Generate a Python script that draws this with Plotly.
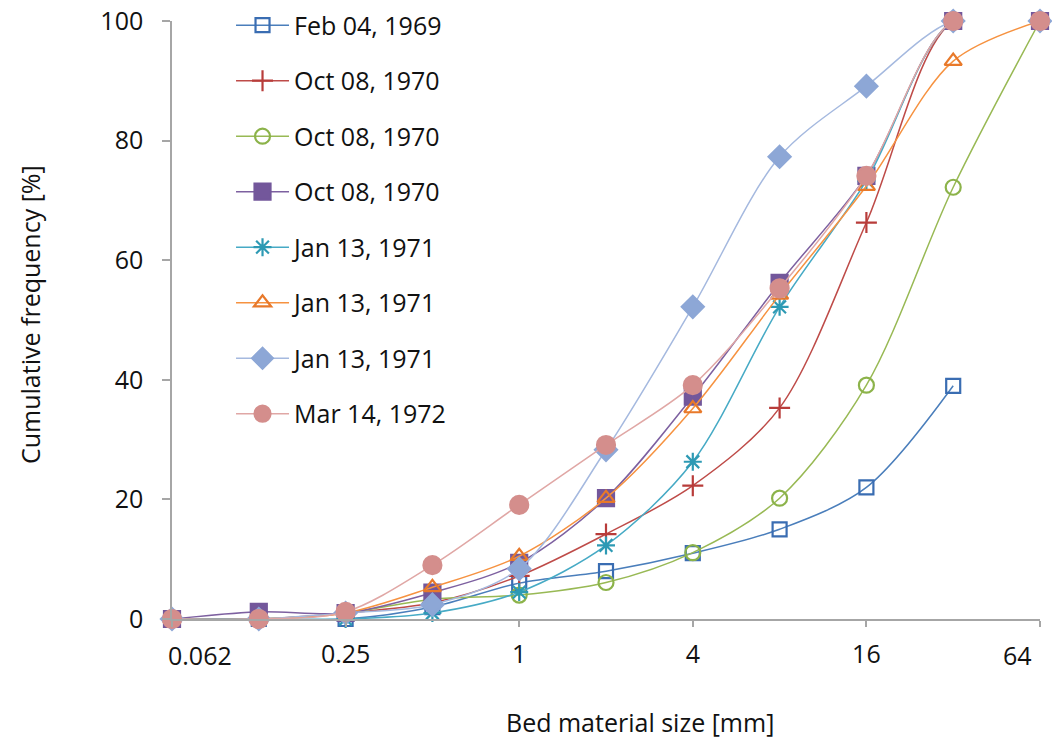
import math
import plotly.graph_objects as go

sizes = [0.0625, 0.125, 0.25, 0.5, 1, 2, 4, 8, 16, 32, 64]

names = ["Feb 04, 1969", "Oct 08, 1970", "Oct 08, 1970", "Oct 08, 1970",
         "Jan 13, 1971", "Jan 13, 1971", "Jan 13, 1971", "Mar 14, 1972"]

feb_1969 = [0, 0, 0, 2, 6, 8, 11, 15, 22, 39]
oct_1970_a = [0, 0, 1, 2.7, 7.2, 14.2, 22.3, 35.3, 66.3, 100, 100]
oct_1970_b = [0, 0, 1, 3.3, 4, 6.1, 11.1, 20.2, 39.1, 72.2, 100]
oct_1970_c = [0, 1.2, 1, 4.4, 9.4, 20.2, 37.2, 56.2, 74.1, 100, 100]
jan_1971_a = [0, 0, 0, 1, 4.5, 12.3, 26.3, 52.2, 73.3, 100, 100]
jan_1971_b = [0, 0, 1, 5.3, 10.5, 20.2, 35.2, 54.2, 72.4, 93.3, 100]
jan_1971_c = [0, 0, 1, 2.4, 8.4, 28.3, 52.2, 77.3, 89.1, 100, 100]
mar_1972 = [0, 0, 1.2, 9, 19.1, 29.1, 39.1, 55.3, 74.1, 100, 100]

series = [feb_1969, oct_1970_a, oct_1970_b, oct_1970_c,
          jan_1971_a, jan_1971_b, jan_1971_c, mar_1972]

x_tick_vals = [0.0625, 0.25, 1, 4, 16, 64]
x_tick_text = ["0.062", "0.25", "1", "4", "16", "64"]
y_tick_vals = [0, 20, 40, 60, 80, 100]

line_colors = ["#4A7EBB", "#BE4B48", "#98B954", "#7D60A0",
               "#46AAC5", "#F69240", "#A5B9DF", "#E0A7A5"]
marker_colors = ["#3A6DB2", "#B83C3A", "#8CB34A", "#73579B",
                 "#2E9AB4", "#E8792A", "#8DA7D6", "#D48E8C"]
symbols = ["square-open", "cross-thin", "circle-open", "square",
           "asterisk", "triangle-up-open", "diamond", "circle"]
msizes = [14, 15, 15, 16, 15, 15, 17, 18]

FONT = "Open Sans"
TXT = "#111111"
fig = go.Figure()
for i, (nm, vals) in enumerate(zip(names, series)):
    fig.add_trace(go.Scatter(
        x=sizes[:len(vals)], y=vals, name=nm,
        mode="lines+markers",
        line=dict(color=line_colors[i], width=1.5, shape="spline", smoothing=0.9),
        marker=dict(symbol=symbols[i], size=msizes[i], color=marker_colors[i],
                    line=dict(color=marker_colors[i], width=2.2)),
        cliponaxis=False,
        legendgroup="g%d" % i,
    ))

axis_gray = "#A6A6A6"
fig.update_layout(
    width=1052, height=746,
    margin=dict(l=172, r=12, t=21, b=127, autoexpand=False),
    paper_bgcolor="white", plot_bgcolor="white",
    font=dict(family=FONT, size=25, color=TXT),
    showlegend=True,
    legend=dict(x=0.068, y=1.031, xanchor="left", yanchor="top",
                font=dict(family=FONT, size=25, color=TXT),
                tracegroupgap=20, bgcolor="rgba(0,0,0,0)", itemwidth=53,
                maxheight=700),
    xaxis=dict(type="log", range=[math.log10(0.0625), math.log10(64)],
               tickvals=x_tick_vals,
               ticktext=["", "0.25", "1", "4", "16", ""],
               showgrid=False, zeroline=False, showline=True,
               linecolor=axis_gray, linewidth=1.5,
               ticks="outside", ticklen=6, tickcolor=axis_gray, tickwidth=1.5,
               ticklabelstandoff=6,
               tickfont=dict(family=FONT, size=25, color=TXT)),
    yaxis=dict(range=[0, 100], tickvals=y_tick_vals,
               showgrid=False, zeroline=False, showline=True,
               linecolor=axis_gray, linewidth=1.5,
               ticks="outside", ticklen=8, tickcolor=axis_gray, tickwidth=1.5,
               ticklabelstandoff=14,
               tickfont=dict(family=FONT, size=25, color=TXT)),
)

# edge tick labels (Excel keeps them inside the chart area)
fig.add_annotation(x=math.log10(x_tick_vals[0]), y=0, xref="x", yref="paper",
                   text=x_tick_text[0], showarrow=False, xshift=28, yshift=-36,
                   xanchor="center", yanchor="middle",
                   font=dict(family=FONT, size=25, color=TXT))
fig.add_annotation(x=math.log10(x_tick_vals[-1]), y=0, xref="x", yref="paper",
                   text=x_tick_text[-1], showarrow=False, xshift=-23, yshift=-36,
                   xanchor="center", yanchor="middle",
                   font=dict(family=FONT, size=25, color=TXT))

fig.add_annotation(x=(640 - 172) / 868, y=(619 - 722) / 598, xref="paper", yref="paper",
                   text="Bed material size [mm]", showarrow=False,
                   xanchor="center", yanchor="middle",
                   font=dict(family=FONT, size=25, color=TXT))
fig.add_annotation(x=(30 - 172) / 868, y=(619 - 315) / 598, xref="paper", yref="paper",
                   text="Cumulative frequency [%]", showarrow=False, textangle=-90,
                   xanchor="center", yanchor="middle",
                   font=dict(family=FONT, size=25, color=TXT))

fig.write_html("out.html")
